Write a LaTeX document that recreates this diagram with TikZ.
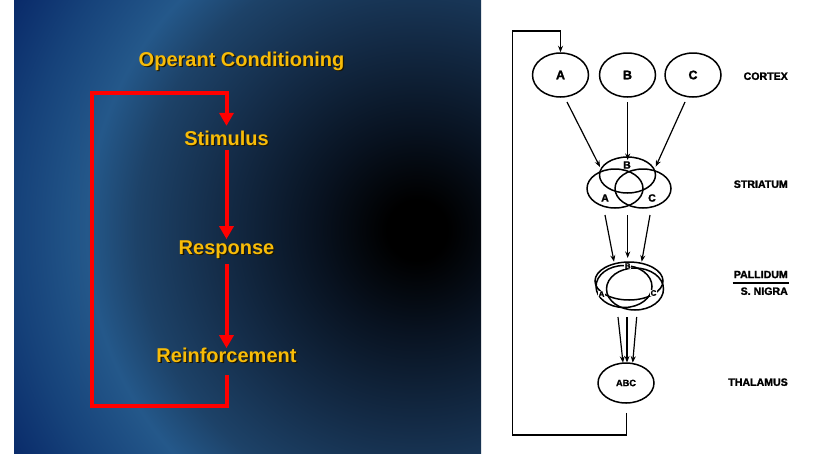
\documentclass[tikz,border=0pt]{standalone}
\usepackage{fontspec}
\setmainfont{Liberation Sans}
\newfontfamily\scanfont[FakeBold=1.6]{Liberation Sans Bold}
\usetikzlibrary{arrows.meta,shapes.geometric,calc}
\definecolor{gold}{RGB}{248,188,8}
\definecolor{gshadow}{RGB}{30,22,0}
\definecolor{bgA}{RGB}{0,0,0}
\definecolor{bgB}{RGB}{8,18,32}
\definecolor{bgC}{RGB}{20,44,72}
\definecolor{bgD}{RGB}{29,66,104}
\definecolor{bgE}{RGB}{36,88,138}
\definecolor{bgF}{RGB}{22,66,122}
\definecolor{bgG}{RGB}{8,40,104}
\pgfdeclareradialshading{slidebg}{\pgfpoint{0bp}{0bp}}{color(0bp)=(bgA); color(1.5bp)=(bgA); color(5bp)=(bgB); color(10bp)=(bgC); color(14bp)=(bgD); color(16.5bp)=(bgE); color(20bp)=(bgF); color(23.5bp)=(bgG); color(25bp)=(bgG); color(50bp)=(bgG)}
\newcommand{\shadowed}[1]{\makebox[0pt][l]{\hspace{1.3pt}\raisebox{-1.3pt}{\color{gshadow}#1}}#1}
\begin{document}
\begin{tikzpicture}[x=1pt,y=-1pt,
  slidetxt/.style={font=\bfseries\fontsize{20}{24}\selectfont, text=gold, inner sep=0pt, text height=14.3pt, text depth=0pt},
  redarr/.style={draw=red, line width=4pt, -{Triangle[width=14pt,length=13pt]}},
  ell/.style={draw, ellipse, inner sep=0pt, line width=1.5pt},
  lab/.style={font=\scanfont\fontsize{10.6}{12}\selectfont, inner sep=0pt, anchor=east, text height=7.7pt, text depth=0pt},
  sarr/.style={draw, line width=1.2pt, -{Stealth[length=6.5pt,width=5pt]}},
  fbline/.style={draw, line width=1.1pt, -{Stealth[length=6.5pt,width=5pt]}},
  vlet/.style={font=\scanfont\fontsize{10.5}{12}\selectfont, inner sep=0pt},
  plet/.style={font=\scanfont\fontsize{8}{9}\selectfont, inner sep=0pt}
]
\useasboundingbox (0,0) rectangle (829,453);
\fill[white] (0,0) rectangle (829,453);
% slide background
\begin{scope}
  \clip (14,0) rectangle (481,453);
  \shade[shading=slidebg] (417,230) circle (500pt);
\end{scope}
% slide texts
\node[slidetxt] (title) at (241.5,59.2) {\shadowed{Operant Conditioning}};
\node[slidetxt] (stim) at (226.5,138) {\shadowed{Stimulus}};
\node[slidetxt] (resp) at (226.5,247.5) {\shadowed{Response}};
\node[slidetxt] (reinf) at (226.5,355.5) {\shadowed{Reinforcement}};
\draw[redarr, shorten <=4.8pt, shorten >=1pt] (stim.south) -- (resp.north);
\draw[redarr, shorten <=9.3pt, shorten >=0pt] (resp.south) -- (reinf.north);
\coordinate (lb) at (91.5,405.8);
\coordinate (lt) at (91.5,92.5);
\draw[redarr, shorten <=12.3pt, shorten >=4.8pt] (reinf.south) -- (reinf.south |- lb) -- (lb) -- (lt) -| (stim.north);
% right panel: cortex
\node[ell, minimum width=56pt, minimum height=44pt, font=\scanfont\fontsize{12.5}{14}\selectfont] (cA) at (560.5,75) {A};
\node[ell, minimum width=56pt, minimum height=44pt, font=\scanfont\fontsize{12.5}{14}\selectfont] (cB) at (627.5,75) {B};
\node[ell, minimum width=56pt, minimum height=44pt, font=\scanfont\fontsize{12.5}{14}\selectfont] (cC) at (693,75) {C};
\node[lab] (lcortex) at (788,76) {CORTEX};
% striatum
\node[ell, minimum width=56pt, minimum height=36pt] (sB) at (627.5,175) {};
\node[ell, minimum width=56pt, minimum height=39pt] (sA) at (615,188.5) {};
\node[ell, minimum width=56pt, minimum height=39pt] (sC) at (643,188.5) {};
\node[vlet] (sBl) at (627,165) {B};
\node[vlet] (sAl) at (605,198) {A};
\node[vlet] (sCl) at (652,198) {C};
\node[lab] (lstriatum) at (788,184) {STRIATUM};
\draw[sarr] ($(cA)+(6.5,27)$) -- ($(sB)+(-27.5,-8)$);
\draw[sarr] ($(cB)+(0.2,27)$) -- ($(sB)+(0.2,-15)$);
\draw[sarr] ($(cC)+(-8,27)$) -- ($(sB)+(28.2,-8.3)$);
% pallidum
\node[ell, minimum width=68pt, minimum height=38pt] (pB) at (629,281) {};
\node[ell, minimum width=56pt, minimum height=42pt] (pA) at (624,286.5) {};
\node[ell, minimum width=57pt, minimum height=42pt] (pC) at (635,289) {};
\node[plet, fill=white, inner sep=0.5pt] (pBl) at (627.7,266) {B};
\node[plet, fill=white, inner sep=0.5pt] (pAl) at (601.5,294) {A};
\node[plet, fill=white, inner sep=0.5pt] (pCl) at (653.5,293) {C};
\draw[sarr] ($(sA)+(-10,26.5)$) -- ($(pB)+(-15,-19.3)$);
\draw[sarr] ($(sA)+(12.7,26.5)$) -- ($(pB)+(-1.3,-23)$);
\draw[sarr] ($(sC)+(7,26.5)$) -- ($(pB)+(12.7,-19.3)$);
\node[lab] (lpall) at (788,274.3) {PALLIDUM};
\draw[line width=1.3pt] ($(lpall.south west)+(-1,4.5)$) -- ($(lpall.south east)+(1,4.5)$);
\node[lab] (lnigra) at (788,291) {S. NIGRA};
% thalamus
\node[ell, minimum width=56pt, minimum height=40pt, font=\scanfont\fontsize{9.2}{11}\selectfont] (tABC) at (626,383) {ABC};
\node[lab] (lthal) at (788,382) {THALAMUS};
\draw[sarr] ($(pA)+(-6,30.5)$) -- ($(tABC)+(-3,-20.3)$);
\draw[sarr] ($(pA)+(3,30.5)$) -- ($(tABC)+(1,-20.5)$);
\draw[sarr] ($(pA)+(12.7,30.5)$) -- ($(tABC)+(6.7,-20.3)$);
% feedback loop
\coordinate (fb1) at (626.5,435);
\coordinate (fb2) at (512.7,435);
\coordinate (fb3) at (512.7,31);
\draw[fbline] ($(tABC.south)+(0.5,9)$) -- (fb1) -- (fb2) -- (fb3) -| (cA.north);
\end{tikzpicture}
\end{document}
